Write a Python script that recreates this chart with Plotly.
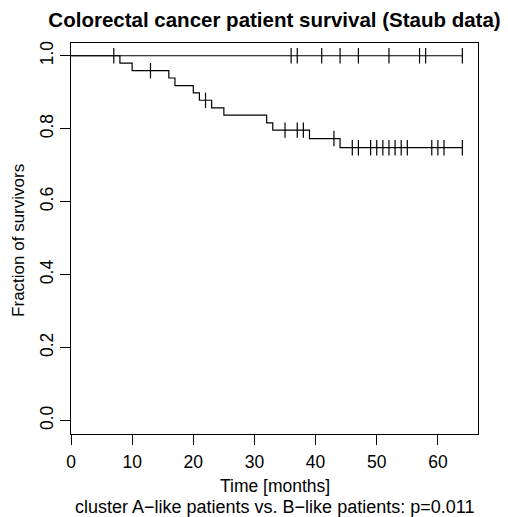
import plotly.graph_objects as go

# Cluster A-like patients: no events, censoring times (months)
a_censor_times = [7, 36, 37, 41, 44, 47, 52, 57, 58, 64]
a_end = 64

# Cluster B-like patients: event times and survival after each event
b_event_times = [8, 10, 16, 17, 20, 21, 23, 25, 32, 33, 39, 44]
b_surv = [0.980, 0.959, 0.939, 0.918, 0.898, 0.878, 0.857, 0.837, 0.816, 0.796, 0.773, 0.748]
b_censor_times = [13, 22, 35, 37, 38, 43, 46, 47, 49, 50, 51, 52, 53, 54, 55, 59, 60, 61, 64]
b_end = 64

x_ticks = [0, 10, 20, 30, 40, 50, 60]
y_ticks = [0.0, 0.2, 0.4, 0.6, 0.8, 1.0]
y_ticklabels = ["0.0", "0.2", "0.4", "0.6", "0.8", "1.0"]

FONT = "Liberation Sans, Arial, Helvetica, sans-serif"
FS = 17.5


def surv_at(t, times, surv):
    s = 1.0
    for tt, ss in zip(times, surv):
        if tt <= t:
            s = ss
    return s


fig = go.Figure()

# Curve A
fig.add_trace(go.Scatter(x=[0, a_end], y=[1.0, 1.0], mode="lines",
                         line=dict(color="black", width=1.2), line_shape="hv",
                         showlegend=False, hoverinfo="skip"))
fig.add_trace(go.Scatter(x=a_censor_times, y=[1.0] * len(a_censor_times), mode="markers",
                         marker=dict(symbol="line-ns", size=11, line=dict(color="black", width=1.2)),
                         showlegend=False))

# Curve B
bx = [0] + b_event_times + [b_end]
by = [1.0] + b_surv + [b_surv[-1]]
fig.add_trace(go.Scatter(x=bx, y=by, mode="lines",
                         line=dict(color="black", width=1.2), line_shape="hv",
                         showlegend=False, hoverinfo="skip"))
fig.add_trace(go.Scatter(x=b_censor_times,
                         y=[surv_at(t, b_event_times, b_surv) for t in b_censor_times],
                         mode="markers",
                         marker=dict(symbol="line-ns", size=11, line=dict(color="black", width=1.2)),
                         showlegend=False))

PLOT_TOP, PLOT_BOTTOM, PLOT_LEFT, PLOT_RIGHT = 42.7, 434.5, 71, 478
PH = PLOT_BOTTOM - PLOT_TOP
PW = PLOT_RIGHT - PLOT_LEFT

fig.update_layout(
    width=508, height=517,
    margin=dict(l=PLOT_LEFT, r=508 - PLOT_RIGHT, t=PLOT_TOP, b=517 - PLOT_BOTTOM, autoexpand=False),
    paper_bgcolor="white", plot_bgcolor="white",
    font=dict(family=FONT, size=FS, color="black"),
    title=dict(text="<b>Colorectal cancer patient survival (Staub data)</b>",
               x=0.5, xref="paper", xanchor="center",
               y=1 - 20 / 517, yref="container", yanchor="middle",
               font=dict(family=FONT, size=20.5, color="black")),
    xaxis=dict(range=[0, 64 * 1.04], tickvals=x_ticks, ticktext=[str(v) for v in x_ticks],
               showgrid=False, zeroline=False, showline=True, linecolor="black", linewidth=1,
               mirror=True, ticks="outside", ticklen=10, tickwidth=1, tickcolor="black",
               tickfont=dict(size=FS), automargin=False, ticklabelstandoff=2),
    yaxis=dict(range=[-0.037, 1.035], tickvals=y_ticks, ticktext=y_ticklabels,
               showgrid=False, zeroline=False, showline=True, linecolor="black", linewidth=1,
               mirror=True, ticks="outside", ticklen=10, tickwidth=1, tickcolor="black",
               tickangle=-90, tickfont=dict(size=FS), automargin=False),
    annotations=[
        dict(text="Time [months]", xref="paper", yref="paper", x=0.5, y=(PLOT_BOTTOM - 487) / PH,
             xanchor="center", yanchor="middle", showarrow=False, font=dict(size=FS)),
        dict(text="cluster A\u2212like patients vs. B\u2212like patients: p=0.011",
             xref="paper", yref="paper", x=0.5, y=(PLOT_BOTTOM - 508) / PH,
             xanchor="center", yanchor="middle", showarrow=False, font=dict(size=18)),
        dict(text="Fraction of survivors", xref="paper", yref="paper", x=(19 - PLOT_LEFT) / PW,
             y=(PLOT_BOTTOM - 241) / PH,
             xanchor="center", yanchor="middle", textangle=-90, showarrow=False,
             font=dict(size=17)),
    ],
)

fig.write_html("out.html", config={"displayModeBar": False},
               post_script="document.body.style.margin='0px';document.body.style.overflow='hidden';")
